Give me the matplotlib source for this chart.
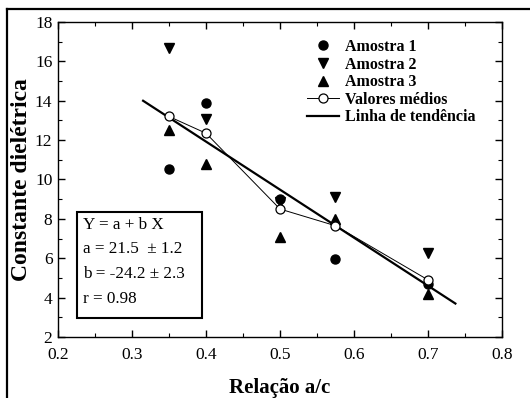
import matplotlib
matplotlib.use("Agg")
import matplotlib.pyplot as plt
from matplotlib.lines import Line2D
from matplotlib.patches import Rectangle

plt.rcParams['font.family'] = ['Liberation Serif', 'DejaVu Serif']

# data
x_vals = [0.35, 0.40, 0.50, 0.575, 0.70]
amostra1 = [10.55, 13.9, 9.0, 5.95, 4.7]
amostra2 = [16.7, 13.05, 8.85, 9.1, 6.25]
amostra3 = [12.5, 10.8, 7.1, 8.0, 4.2]
medios = [13.2, 12.35, 8.5, 7.65, 4.9]

trend_x = [0.315, 0.737]
trend_y = [14.0, 3.7]

box_lines = ["Y = a + b X", "a = 21.5  \u00b1 1.2", "b = -24.2 \u00b1 2.3", "r = 0.98"]

fig = plt.figure(figsize=(5.30, 3.98), dpi=100)
ax = fig.add_axes([58/530, 61/398, 444/530, 315/398])

ax.plot(x_vals, amostra1, 'o', color='black', ms=6.5, label='Amostra 1', zorder=3)
ax.plot(x_vals, amostra2, 'v', color='black', ms=7, label='Amostra 2', zorder=3)
ax.plot(x_vals, amostra3, '^', color='black', ms=7, label='Amostra 3', zorder=3)
ax.plot(x_vals, medios, '-o', color='black', lw=0.7, ms=6.5, mfc='white',
        mew=0.9, label='Valores m\u00e9dios', zorder=4)
ax.plot(trend_x, trend_y, '-', color='black', lw=1.6, label='Linha de tend\u00eancia', zorder=2)

ax.set_xlim(0.2, 0.8)
ax.set_ylim(2, 18)
ax.set_xticks([0.2, 0.3, 0.4, 0.5, 0.6, 0.7, 0.8])
ax.set_xticklabels(['0.2', '0.3', '0.4', '0.5', '0.6', '0.7', '0.8'])
ax.set_xticks([0.25, 0.35, 0.45, 0.55, 0.65, 0.75], minor=True)
ax.set_yticks(range(2, 19, 2))
ax.set_yticks(range(3, 18, 2), minor=True)
ax.tick_params(which='both', direction='in', top=True, right=True, labelsize=12.5)
ax.tick_params(axis='x', which='major', pad=7)
ax.tick_params(axis='y', which='major', pad=4)
ax.tick_params(which='major', length=5, width=1)
ax.tick_params(which='minor', length=3, width=0.8)
for s in ax.spines.values():
    s.set_linewidth(1)

ax.set_xlabel('Rela\u00e7\u00e3o a/c', fontsize=15, fontweight='bold', labelpad=11)
ax.set_ylabel('Constante diel\u00e9trica', fontsize=17, fontweight='bold', labelpad=2)

leg = ax.legend(loc='upper left', bbox_to_anchor=(0.561, 0.946), frameon=False,
                prop={'weight': 'bold', 'size': 11.5}, handlelength=2.0,
                handletextpad=0.35, labelspacing=0.1, borderpad=0, borderaxespad=0)

# equation box
ax.add_patch(Rectangle((0.043, 0.06), 0.282, 0.337, transform=ax.transAxes,
                       fill=True, facecolor='white', edgecolor='black', lw=1.5, zorder=5))
for i, t in enumerate(box_lines):
    ax.text(0.056, 0.356 - i * 0.078, t, transform=ax.transAxes, fontsize=12.3,
            va='center', ha='left', zorder=6)

# outer frame (top and left)
fig.add_artist(Line2D([7/530, 1], [1 - 9/398, 1 - 9/398], color='black', lw=1.6))
fig.add_artist(Line2D([7/530, 7/530], [0, 1 - 9/398], color='black', lw=1.6))

fig.savefig('out.png', dpi=100)
